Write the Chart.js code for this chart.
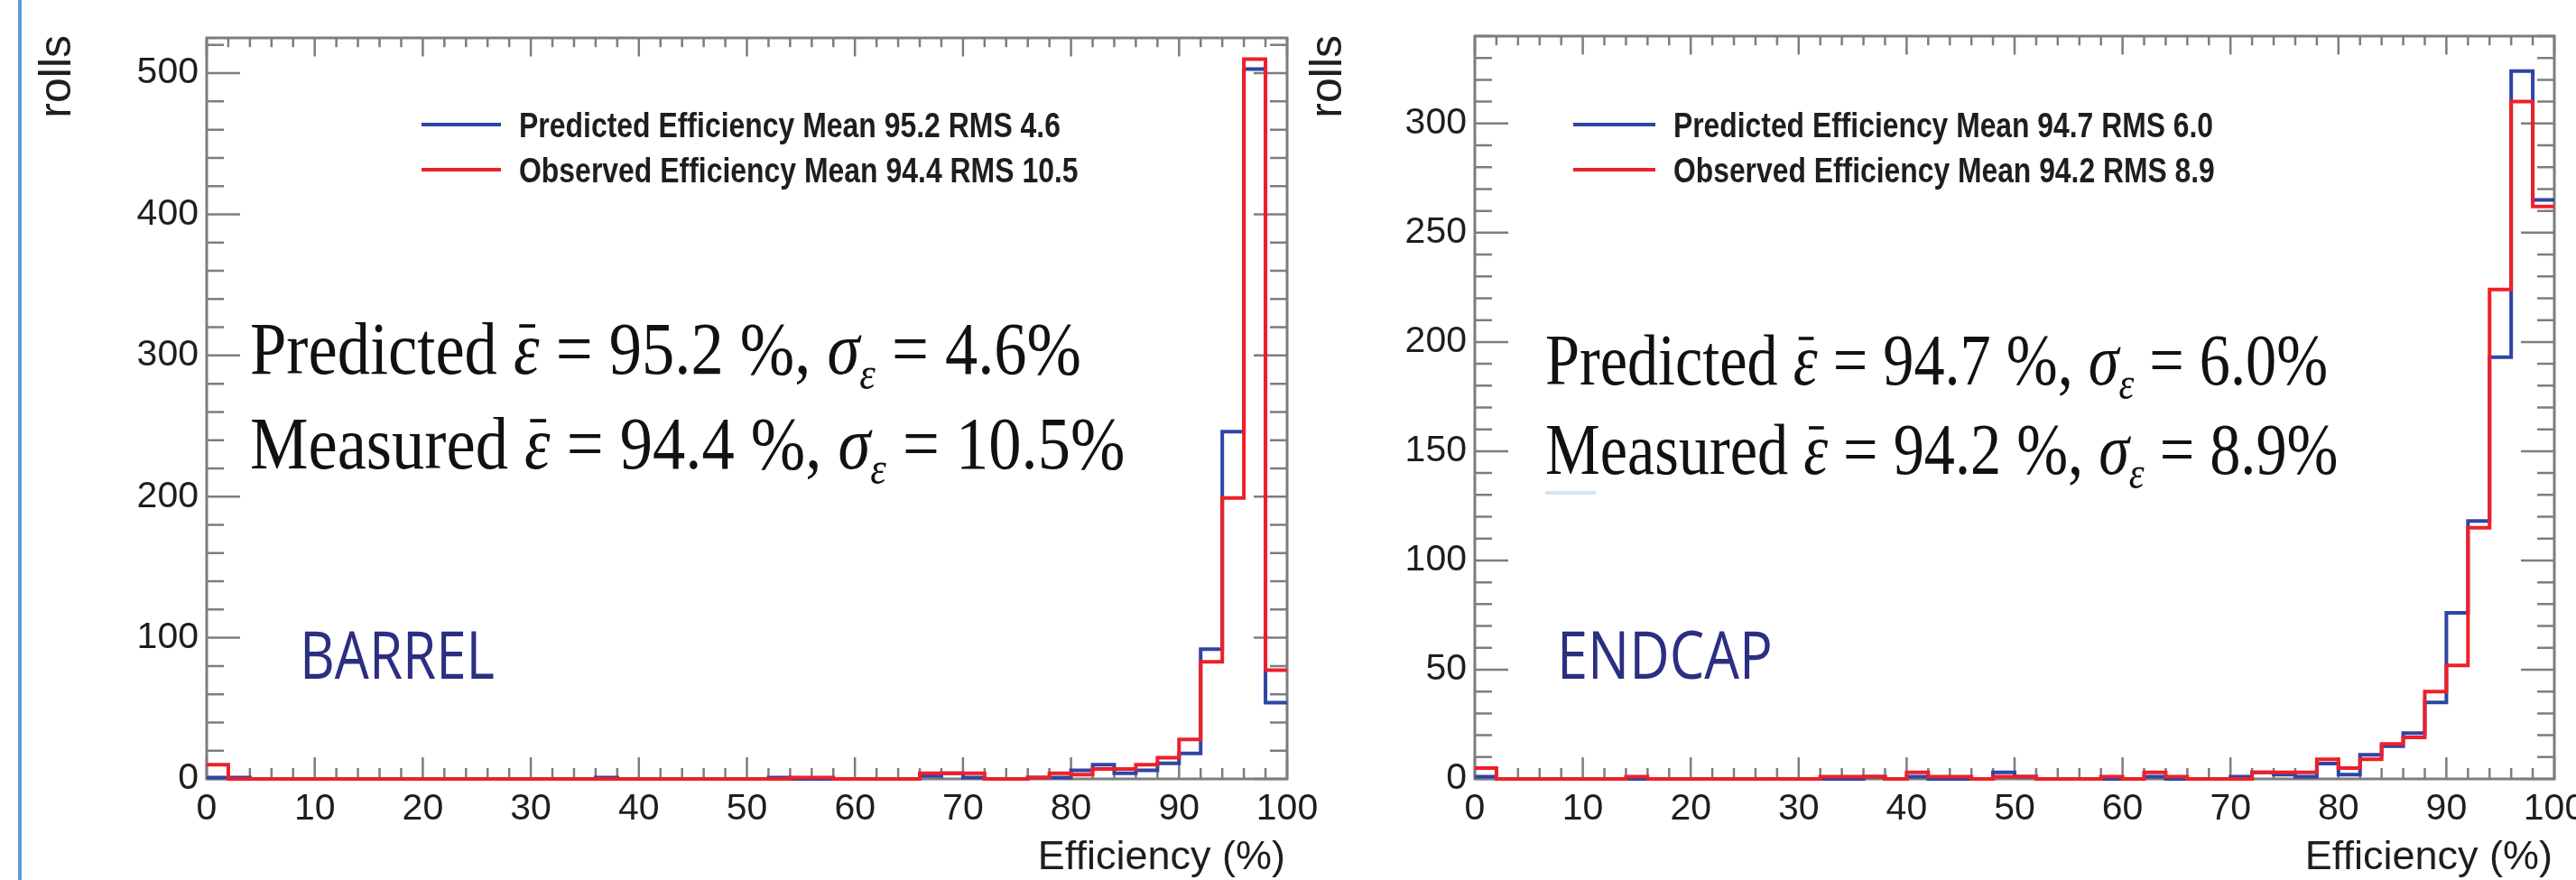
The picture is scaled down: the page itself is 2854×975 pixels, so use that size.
<!DOCTYPE html>
<html lang="en">
<head>
<meta charset="utf-8">
<title>Roll efficiency: barrel and endcap</title>
<script src="https://cdn.jsdelivr.net/npm/chart.js@4.4.1/dist/chart.umd.min.js"></script>
<style>
  html, body { margin: 0; padding: 0; background: #fff; }
  body { position: relative; width: 2854px; height: 975px; overflow: hidden; }
  .slide-edge { position: absolute; left: 20px; top: 0; width: 4px; height: 975px; background: #5b9bd5; }
  .panel { position: absolute; top: 0; }
  #barrel { left: 0; }
  #endcap { left: 1440px; }
</style>
</head>
<body>
<div class="slide-edge"></div>
<canvas id="barrel" class="panel" width="1460" height="975"></canvas>
<canvas id="endcap" class="panel" width="1414" height="975"></canvas>

<script>
// histogram bins, width 2 (%)
var binEdges = [0, 2, 4, 6, 8, 10, 12, 14, 16, 18, 20, 22, 24, 26, 28, 30, 32, 34, 36, 38,
  40, 42, 44, 46, 48, 50, 52, 54, 56, 58, 60, 62, 64, 66, 68, 70, 72, 74, 76, 78,
  80, 82, 84, 86, 88, 90, 92, 94, 96, 98, 100];

// counts per bin (rolls)
var barrelPredicted = [1, 1, 0, 0, 0, 0, 0, 0, 0, 0,
  0, 0, 0, 0, 0, 0, 0, 0, 1, 0,
  0, 0, 0, 0, 0, 0, 1, 0, 0, 0,
  0, 0, 0, 2, 4, 1, 0, 0, 1, 1,
  6, 10, 4, 6, 11, 18, 92, 246, 503, 54];
var barrelObserved = [10, 0, 0, 0, 0, 0, 0, 0, 0, 0,
  0, 0, 0, 0, 0, 0, 0, 0, 0, 0,
  0, 0, 0, 0, 0, 0, 0, 1, 1, 0,
  0, 0, 0, 4, 4, 4, 0, 0, 1, 4,
  3, 7, 7, 10, 15, 28, 83, 199, 510, 77];
var endcapPredicted = [1, 0, 0, 0, 0, 0, 0, 0, 0, 0,
  0, 0, 0, 0, 0, 0, 0, 0, 1, 0,
  1, 0, 0, 0, 3, 1, 0, 0, 0, 0,
  0, 1, 0, 0, 0, 1, 3, 2, 1, 7,
  2, 11, 15, 21, 35, 76, 118, 193, 324, 265];
var endcapObserved = [5, 0, 0, 0, 0, 0, 0, 1, 0, 0,
  0, 0, 0, 0, 0, 0, 1, 1, 1, 0,
  3, 1, 1, 0, 1, 1, 0, 0, 0, 1,
  0, 3, 1, 0, 0, 0, 3, 3, 3, 9,
  5, 9, 16, 19, 40, 52, 115, 224, 310, 262];

// mean / RMS as quoted on the plots: [predicted, observed]
var barrelMean = [95.2, 94.4];
var barrelRms = [4.6, 10.5];
var endcapMean = [94.7, 94.2];
var endcapRms = [6.0, 8.9];

var xTicks = [0, 10, 20, 30, 40, 50, 60, 70, 80, 90, 100];
var barrelYTicks = [0, 100, 200, 300, 400, 500];
var endcapYTicks = [0, 50, 100, 150, 200, 250, 300];
var barrelYMax = 525;
var endcapYMax = 340;

var BLUE = '#2f45a5';
var RED = '#ee2029';
var INK = '#1e1e1e';

function histPoints(counts) {
  return binEdges.map(function (e, i) {
    return { x: e, y: counts[Math.min(i, counts.length - 1)] };
  });
}

// ROOT-like frame with inward ticks on all four sides
var frameTicks = {
  id: 'frameTicks',
  beforeDatasetsDraw: function (chart, args, o) {
    var ctx = chart.ctx, a = chart.chartArea, x = chart.scales.x, y = chart.scales.y;
    var v, p, len;
    ctx.save();
    ctx.strokeStyle = '#7d7d7d';
    ctx.lineWidth = 2.5;
    ctx.beginPath();
    for (v = x.min; v <= x.max; v += o.xMinor) {
      p = x.getPixelForValue(v);
      len = v % o.xMajor === 0 ? 24 : 12;
      ctx.moveTo(p, a.bottom); ctx.lineTo(p, a.bottom - len);
      ctx.moveTo(p, a.top); ctx.lineTo(p, a.top + len * 0.85);
    }
    for (v = y.min; v <= y.max; v += o.yMinor) {
      p = y.getPixelForValue(v);
      len = v % o.yMajor === 0 ? 37 : 19;
      ctx.moveTo(a.left, p); ctx.lineTo(a.left + len, p);
      ctx.moveTo(a.right, p); ctx.lineTo(a.right - len, p);
    }
    ctx.stroke();
    ctx.lineWidth = 3;
    ctx.strokeRect(a.left, a.top, a.right - a.left, a.bottom - a.top);
    ctx.restore();
  }
};

function partFont(p, size) {
  var s = p.sub ? Math.round(size * 0.62) : size;
  return (p.it ? 'italic ' : '') + s + 'px "Liberation Serif", "DejaVu Serif", serif';
}
function richWidth(ctx, parts, size) {
  var w = 0;
  parts.forEach(function (p) { ctx.font = partFont(p, size); w += ctx.measureText(p.t).width; });
  return w;
}
function drawRich(ctx, parts, x, base, size, sx) {
  var cx = 0;
  ctx.save();
  ctx.translate(x, base);
  ctx.scale(sx, 1);
  parts.forEach(function (p) {
    ctx.font = partFont(p, size);
    var w = ctx.measureText(p.t).width;
    ctx.fillText(p.t, cx, p.sub ? size * 0.2 : 0);
    if (p.bar) {
      // overbar of the mean symbol
      ctx.fillRect(cx + w * 0.22, -size * 0.66, w * 0.62, size * 0.045);
    }
    cx += w;
  });
  ctx.restore();
}
function statParts(word, mean, rms) {
  return [
    { t: word + ' ' },
    { t: '\u03B5', it: true, bar: true },
    { t: ' = ' + mean.toFixed(1) + ' %, ' },
    { t: '\u03C3', it: true },
    { t: '\u03B5', it: true, sub: true },
    { t: ' = ' + rms.toFixed(1) + '%' }
  ];
}

// legend, statistics box, region label and axis titles
var panelText = {
  id: 'panelText',
  afterDatasetsDraw: function (chart, args, o) {
    var ctx = chart.ctx, a = chart.chartArea;
    var rows = [
      { color: BLUE, text: 'Predicted Efficiency Mean ' + o.mean[0].toFixed(1) + ' RMS ' + o.rms[0].toFixed(1), y: 138 },
      { color: RED, text: 'Observed Efficiency Mean ' + o.mean[1].toFixed(1) + ' RMS ' + o.rms[1].toFixed(1), y: 188 }
    ];
    ctx.save();
    ctx.font = 'bold 38px "Liberation Sans", Arial, sans-serif';
    var lsx = o.legendWidth / ctx.measureText(rows[0].text).width;
    rows.forEach(function (r) {
      ctx.strokeStyle = r.color;
      ctx.lineWidth = 4;
      ctx.beginPath();
      ctx.moveTo(o.legendLine[0], r.y);
      ctx.lineTo(o.legendLine[1], r.y);
      ctx.stroke();
      ctx.fillStyle = INK;
      ctx.textBaseline = 'alphabetic';
      ctx.save();
      ctx.translate(o.legendText, r.y + 14);
      ctx.scale(lsx, 1);
      ctx.fillText(r.text, 0, 0);
      ctx.restore();
    });

    // big statistics text
    var l1 = statParts('Predicted', o.mean[0], o.rms[0]);
    var l2 = statParts('Measured', o.mean[1], o.rms[1]);
    var sx = o.statWidth / richWidth(ctx, l1, o.statSize);
    ctx.fillStyle = '#111';
    drawRich(ctx, l1, o.statX, o.statBase[0], o.statSize, sx);
    drawRich(ctx, l2, o.statX, o.statBase[1], o.statSize, sx);
    if (o.underline) {
      ctx.strokeStyle = '#d3e5f5';
      ctx.lineWidth = 4;
      ctx.beginPath();
      ctx.moveTo(o.underline[0], o.underline[2]);
      ctx.lineTo(o.underline[1], o.underline[2]);
      ctx.stroke();
    }

    // region label
    ctx.font = '74px "Open Sans", "Liberation Sans", sans-serif';
    var rsx = o.regionWidth / ctx.measureText(o.region).width;
    ctx.fillStyle = '#2b2f82';
    ctx.save();
    ctx.translate(o.regionX, 752);
    ctx.scale(rsx, 1);
    ctx.fillText(o.region, 0, 0);
    ctx.restore();

    // axis titles
    ctx.fillStyle = INK;
    ctx.font = '45px "Liberation Sans", Arial, sans-serif';
    ctx.textAlign = 'right';
    ctx.fillText('Efficiency (%)', a.right - 2, 963);
    ctx.save();
    ctx.font = '50px "Liberation Sans", Arial, sans-serif';
    ctx.translate(o.yTitleX, 39);
    ctx.rotate(-Math.PI / 2);
    ctx.textAlign = 'right';
    ctx.fillText('rolls', 0, 0);
    ctx.restore();
    ctx.restore();
  }
};

function makePanel(id, predicted, observed, yMax, yTicks, box, text) {
  var tickFont = { family: '"Liberation Sans", Arial, sans-serif', size: 41 };
  return new Chart(document.getElementById(id), {
    type: 'line',
    data: {
      datasets: [{
        label: 'Predicted Efficiency',
        data: histPoints(predicted),
        borderColor: BLUE,
        borderWidth: 4,
        stepped: true,
        pointRadius: 0,
        fill: false,
        clip: 4,
        order: 2
      }, {
        label: 'Observed Efficiency',
        data: histPoints(observed),
        borderColor: RED,
        borderWidth: 4,
        stepped: true,
        pointRadius: 0,
        fill: false,
        clip: 4,
        order: 1
      }]
    },
    plugins: [frameTicks, panelText],
    options: {
      responsive: false,
      devicePixelRatio: 1,
      animation: false,
      events: [],
      layout: { padding: { left: 0, top: box.top, right: box.right, bottom: 0 } },
      plugins: {
        legend: { display: false },
        tooltip: { enabled: false },
        frameTicks: { xMinor: 2, xMajor: 10, yMinor: box.yMinor, yMajor: box.yMajor },
        panelText: text
      },
      scales: {
        x: {
          type: 'linear',
          min: 0,
          max: 100,
          grid: { display: false, drawTicks: false },
          border: { display: false },
          ticks: { font: tickFont, color: INK, padding: 9, autoSkip: false, maxRotation: 0 },
          afterBuildTicks: function (s) { s.ticks = xTicks.map(function (v) { return { value: v }; }); },
          afterFit: function (s) { s.height = 975 - 863; s.paddingLeft = 0; s.paddingRight = 0; }
        },
        y: {
          type: 'linear',
          min: 0,
          max: yMax,
          grid: { display: false, drawTicks: false },
          border: { display: false },
          ticks: { font: tickFont, color: INK, padding: 9 },
          afterBuildTicks: function (s) { s.ticks = yTicks.map(function (v) { return { value: v }; }); },
          afterFit: function (s) { s.width = box.left; s.paddingTop = 0; s.paddingBottom = 0; }
        }
      }
    }
  });
}

makePanel('barrel', barrelPredicted, barrelObserved, barrelYMax, barrelYTicks,
  { left: 229, top: 42, right: 34, yMinor: 20, yMajor: 100 },
  {
    mean: barrelMean, rms: barrelRms,
    legendLine: [467, 555], legendText: 575, legendWidth: 600,
    statX: 277, statBase: [414, 519], statSize: 83, statWidth: 921,
    region: 'BARREL', regionX: 332, regionWidth: 216,
    yTitleX: 78
  });

makePanel('endcap', endcapPredicted, endcapObserved, endcapYMax, endcapYTicks,
  { left: 194, top: 40, right: 24, yMinor: 10, yMajor: 50 },
  {
    mean: endcapMean, rms: endcapRms,
    legendLine: [303, 394], legendText: 414, legendWidth: 598,
    statX: 272, statBase: [426, 525], statSize: 80, statWidth: 867,
    underline: [272, 328, 546],
    region: 'ENDCAP', regionX: 285, regionWidth: 239,
    yTitleX: 46
  });
</script>
</body>
</html>
